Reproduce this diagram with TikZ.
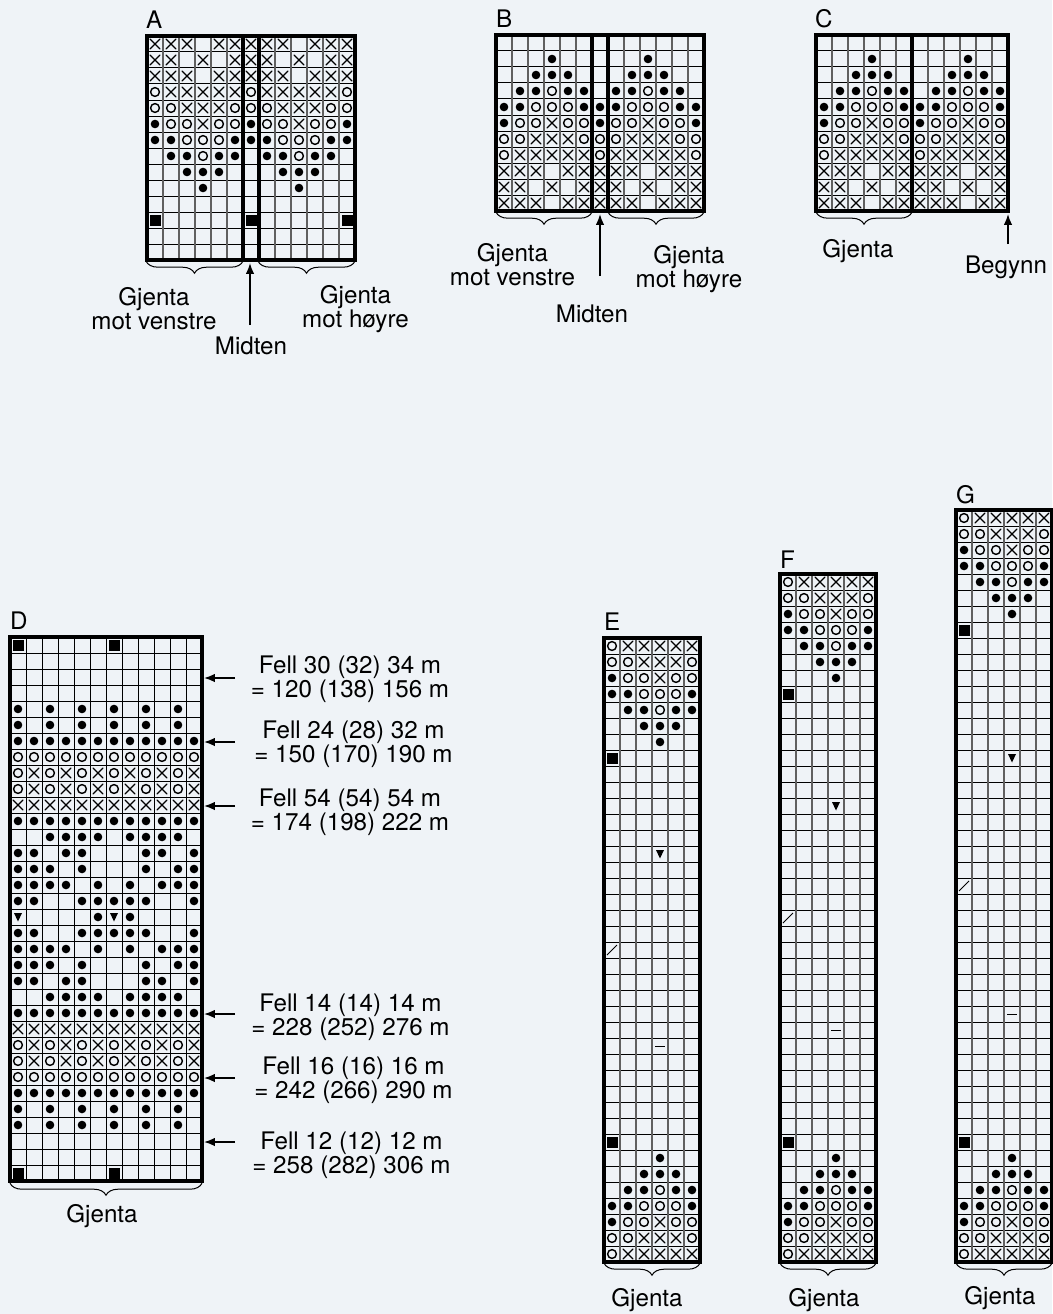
\documentclass[tikz,border=0pt]{standalone}
\usepackage{fontspec}
\setmainfont{TeX Gyre Heros}
\usetikzlibrary{arrows.meta,decorations.pathreplacing}

\definecolor{paperColour}{HTML}{EFF3F7}
\definecolor{ruleColour}{HTML}{606060}

\tikzset{
    chartframe/.style={draw=black, line width=.78mm, line cap=rect},
    rowline/.style={black, line width=.25mm},
    colline/.style={ruleColour, line width=.32mm},
    sign/.style={black, line width=.3mm, line cap=round},
    signo/.style={black, line width=.36mm},
    signthin/.style={black, line width=.22mm},
    repeatbrace/.style={decorate, decoration={brace, mirror, amplitude=3mm, raise=.3mm}, black, line width=.25mm},
    toarrow/.style={-{Latex[length=2.7mm,width=2.1mm]}, black, line width=.4mm},
    label/.style={inner sep=0pt, outer sep=0pt, font=\fontsize{17.2}{17.07}\selectfont, align=center},
    title/.style={inner sep=0pt, outer sep=0pt, font=\fontsize{17.2}{17.07}\selectfont, anchor=base west},
}

% one cell sign, #1 = column, #2 = row
\newcommand{\signX}[2]{\draw[sign] ({(#1)*16+3},{(#2)*16+3}) -- +(10,10) ({(#1)*16+13},{(#2)*16+3}) -- +(-10,10);}
\newcommand{\signO}[2]{\draw[signo] ({(#1)*16+8},{(#2)*16+8}) circle (4.4);}
\newcommand{\signD}[2]{\fill ({(#1)*16+8},{(#2)*16+8}) circle (4.3);}
\newcommand{\signS}[2]{\fill ({(#1)*16+2.6},{(#2)*16+3}) rectangle +(11,11);}
\newcommand{\signT}[2]{\fill ({(#1)*16+4},{(#2)*16+4}) -- +(8,0) -- +(4,8.5) -- cycle;}
\newcommand{\signL}[2]{\draw[signthin] ({(#1)*16+3},{(#2)*16+13}) -- +(10,-10);}
\newcommand{\signM}[2]{\draw[signthin] ({(#1)*16+3},{(#2)*16+8}) -- +(10,0);}

% a row of signs: #1 = sign macro, #2 = row, #3 = columns
\newcommand{\rowOf}[3]{\foreach \c in {#3} {#1{\c}{#2}}}

% the rows of the wave pattern, #1 = first column, #2 = row
\newcommand{\waveA}[2]{\rowOf\signX{#2}{#1+0,#1+1,#1+2,#1+4,#1+5}}
\newcommand{\waveB}[2]{\rowOf\signX{#2}{#1+0,#1+1,#1+3,#1+5}}
\newcommand{\waveC}[2]{\rowOf\signO{#2}{#1+0}\rowOf\signX{#2}{#1+1,#1+2,#1+3,#1+4,#1+5}}
\newcommand{\waveD}[2]{\rowOf\signO{#2}{#1+0,#1+1,#1+5}\rowOf\signX{#2}{#1+2,#1+3,#1+4}}
\newcommand{\waveE}[2]{\rowOf\signD{#2}{#1+0}\rowOf\signO{#2}{#1+1,#1+2,#1+4,#1+5}\rowOf\signX{#2}{#1+3}}
\newcommand{\waveF}[2]{\rowOf\signD{#2}{#1+0,#1+1,#1+5}\rowOf\signO{#2}{#1+2,#1+3,#1+4}}
\newcommand{\waveG}[2]{\rowOf\signD{#2}{#1+1,#1+2,#1+4,#1+5}\rowOf\signO{#2}{#1+3}}
\newcommand{\waveH}[2]{\rowOf\signD{#2}{#1+2,#1+3,#1+4}}
\newcommand{\waveI}[2]{\rowOf\signD{#2}{#1+3}}

% empty chart: #1 = name, #2 = x, #3 = y, #4 = columns, #5 = rows, #6 = colour of the columns
\newcommand{\chartAt}[6]{
    \foreach \r in {1,...,\numexpr#5-1\relax}
        \draw[rowline] (#2,{#3+\r*16}) -- +({#4*16},0);
    \foreach \c in {1,...,\numexpr#4-1\relax}
        \draw[colline,#6] ({#2+\c*16},#3) -- +(0,{#5*16});
    \path (#2,#3) coordinate (#1nw) ({#2+#4*16},{#3+#5*16}) coordinate (#1se);
    \draw[chartframe] (#1nw) rectangle (#1se);
}

\begin{document}
\begin{tikzpicture}[x=.25mm,y=-.25mm]
    % Paper
    \fill[paperColour] (0,0) rectangle (1052,1314);
    \useasboundingbox (0,0) rectangle (1052,1314);

    % Chart A
    \chartAt{A}{147}{36}{13}{14}{}
    \draw[chartframe] (243,36) -- (243,260) (259,36) -- (259,260);
    \begin{scope}[shift={(147,36)}]
        \waveA{0}{0}\waveB{0}{1}\waveA{0}{2}\waveC{0}{3}\waveD{0}{4}\waveE{0}{5}\waveF{0}{6}\waveG{0}{7}\waveH{0}{8}\waveI{0}{9}
        \rowOf\signX{0}{6,7,8,10,11,12}
        \rowOf\signX{1}{6,7,9,11,12}
        \rowOf\signX{2}{6,7,8,10,11,12}
        \rowOf\signO{3}{6,12}\rowOf\signX{3}{7,8,9,10,11}
        \rowOf\signO{4}{6,7,11,12}\rowOf\signX{4}{8,9,10}
        \rowOf\signD{5}{6,12}\rowOf\signO{5}{7,8,10,11}\rowOf\signX{5}{9}
        \rowOf\signD{6}{6,7,11,12}\rowOf\signO{6}{8,9,10}
        \rowOf\signD{7}{7,8,10,11}\rowOf\signO{7}{9}
        \rowOf\signD{8}{8,9,10}
        \rowOf\signD{9}{9}
        \rowOf\signS{11}{0,6,12}
    \end{scope}

    % Chart B
    \chartAt{B}{496}{35}{13}{11}{}
    \draw[chartframe] (592,35) -- (592,211) (608,35) -- (608,211);
    \begin{scope}[shift={(496,35)}]
        \waveI{0}{1}\waveH{0}{2}\waveG{0}{3}\waveF{0}{4}\waveE{0}{5}\waveD{0}{6}\waveC{0}{7}\waveA{0}{8}\waveB{0}{9}\waveA{0}{10}
        \rowOf\signD{1}{9}
        \rowOf\signD{2}{8,9,10}
        \rowOf\signD{3}{7,8,10,11}\rowOf\signO{3}{9}
        \rowOf\signD{4}{6,7,11,12}\rowOf\signO{4}{8,9,10}
        \rowOf\signD{5}{6,12}\rowOf\signO{5}{7,8,10,11}\rowOf\signX{5}{9}
        \rowOf\signO{6}{6,7,11,12}\rowOf\signX{6}{8,9,10}
        \rowOf\signO{7}{6,12}\rowOf\signX{7}{7,8,9,10,11}
        \rowOf\signX{8}{6,7,8,10,11,12}
        \rowOf\signX{9}{6,7,9,11,12}
        \rowOf\signX{10}{6,7,8,10,11,12}
    \end{scope}

    % Chart C
    \chartAt{C}{816}{35}{12}{11}{}
    \draw[chartframe] (912,35) -- (912,211);
    \begin{scope}[shift={(816,35)}]
        \foreach \s in {0,6} {
            \waveI{\s}{1}\waveH{\s}{2}\waveG{\s}{3}\waveF{\s}{4}\waveE{\s}{5}\waveD{\s}{6}\waveC{\s}{7}\waveA{\s}{8}\waveB{\s}{9}\waveA{\s}{10}
        }
    \end{scope}

    % Chart D
    \chartAt{D}{10}{637}{12}{34}{rowline}
    \begin{scope}[shift={(10,637)}]
        \rowOf\signS{0}{0,6}
        \foreach \r in {4,5,29,30} {\rowOf\signD{\r}{0,2,...,10}}
        \foreach \r in {6,11,23,28} {\rowOf\signD{\r}{0,...,11}}
        \foreach \r in {7,27} {\rowOf\signO{\r}{0,...,11}}
        \foreach \r in {8,9,25,26} {\rowOf\signO{\r}{0,2,...,10}\rowOf\signX{\r}{1,3,...,11}}
        \foreach \r in {10,24} {\rowOf\signX{\r}{0,...,11}}
        \foreach \r in {12,22} {\rowOf\signD{\r}{2,3,4,5,7,8,9,10}}
        \foreach \r in {13,21} {\rowOf\signD{\r}{0,1,3,4,8,9,11}}
        \foreach \r in {14,20} {\rowOf\signD{\r}{0,1,2,4,8,10,11}}
        \foreach \r in {15,19} {\rowOf\signD{\r}{0,1,2,3,5,7,9,10,11}}
        \foreach \r in {16,18} {\rowOf\signD{\r}{0,1,4,5,6,7,8,11}}
        \rowOf\signT{17}{0,6}\rowOf\signD{17}{5,7}
        \rowOf\signS{33}{0,6}
    \end{scope}

    % Charts E, F, G
    \chartAt{E}{604}{638}{6}{39}{}
    \chartAt{F}{780}{574}{6}{43}{}
    \chartAt{G}{956}{510}{6}{47}{}
    \foreach \x/\y/\rowCount/\triRow/\slashRow/\dashRow/\markRow in {604/638/39/13/19/25/31, 780/574/43/14/21/28/35, 956/510/47/15/23/31/39} {
        \begin{scope}[shift={(\x,\y)}]
            % top of the chart
            \waveC{0}{0}\waveD{0}{1}\waveE{0}{2}\waveF{0}{3}\waveG{0}{4}\waveH{0}{5}\waveI{0}{6}
            \signS{0}{7}
            \signT{3}{\triRow}
            \signL{0}{\slashRow}
            \signM{3}{\dashRow}
            \signS{0}{\markRow}
            % foot of the chart
            \waveI{0}{\rowCount-7}\waveH{0}{\rowCount-6}\waveG{0}{\rowCount-5}\waveF{0}{\rowCount-4}\waveE{0}{\rowCount-3}\waveD{0}{\rowCount-2}\waveC{0}{\rowCount-1}
        \end{scope}
    }

    % Chart letters
    \node[title] (titleA) at (146,29) {A};
    \node[title] (titleB) at (496,28) {B};
    \node[title] (titleC) at (815,28) {C};
    \node[title] (titleD) at (10,629) {D};
    \node[title] (titleE) at (604,630) {E};
    \node[title] (titleF) at (780,568) {F};
    \node[title] (titleG) at (956,503) {G};

    % Repeat braces
    \draw[repeatbrace] (146,260) -- (243,260);
    \draw[repeatbrace] (258,260) -- (355,260);
    \draw[repeatbrace] (496,211) -- (592,211);
    \draw[repeatbrace] (608,211) -- (704,211);
    \draw[repeatbrace] (816,211) -- (912,211);
    \draw[repeatbrace] (10,1182) -- (202,1182);
    \draw[repeatbrace] (604,1262) -- (700,1262);
    \draw[repeatbrace] (780,1262) -- (876,1262);
    \draw[repeatbrace] (956,1262) -- (1052,1262);

    % Labels below the charts
    \node[label] (leftA) at (154,309) {Gjenta\\mot venstre};
    \node[label] (rightA) at (355.5,309) {Gjenta\\mot høyre};
    \node[label] (midA) at (251,346) {Midten};
    \node[label] (leftB) at (512.5,264.5) {Gjenta\\mot venstre};
    \node[label] (rightB) at (689,269) {Gjenta\\mot høyre};
    \node[label] (midB) at (592,314) {Midten};
    \node[label] (repC) at (858,251) {Gjenta};
    \node[label] (startC) at (1006,267) {Begynn};
    \node[label] (repD) at (102,1216) {Gjenta};
    \node[label] (repE) at (647,1300) {Gjenta};
    \node[label] (repF) at (824,1300) {Gjenta};
    \node[label] (repG) at (1000,1298) {Gjenta};

    % Arrows to the charts
    \coordinate (tipA) at (250,263);
    \coordinate (tailA) at (250,325);
    \coordinate (tipB) at (600,214);
    \coordinate (tailB) at (600,276);
    \coordinate (tipC) at (1008,214);
    \coordinate (tailC) at (1008,244);
    \draw[toarrow] (tailA) -- (tipA);
    \draw[toarrow] (tailB) -- (tipB);
    \draw[toarrow] (tailC) -- (tipC);

    % Decrease notes of chart D
    \foreach \id/\y/\ty/\tx/\fellLine/\sumLine in {
        a/678/679.5/350/Fell 30 (32) 34 m/= 120 (138) 156 m,
        b/742/744/353.5/Fell 24 (28) 32 m/= 150 (170) 190 m,
        c/806/812/350/Fell 54 (54) 54 m/= 174 (198) 222 m,
        d/1014/1017.5/350.5/Fell 14 (14) 14 m/= 228 (252) 276 m,
        e/1078/1080.5/353.5/Fell 16 (16) 16 m/= 242 (266) 290 m,
        f/1142/1155.5/351.5/Fell 12 (12) 12 m/= 258 (282) 306 m} {
        \node[label] (note\id) at (\tx,\ty) {\fellLine\\\sumLine};
        \coordinate (tail\id) at (235,\y);
        \coordinate (tip\id) at (204,\y);
        \draw[toarrow] (tail\id) -- (tip\id);
    }
\end{tikzpicture}
\end{document}
